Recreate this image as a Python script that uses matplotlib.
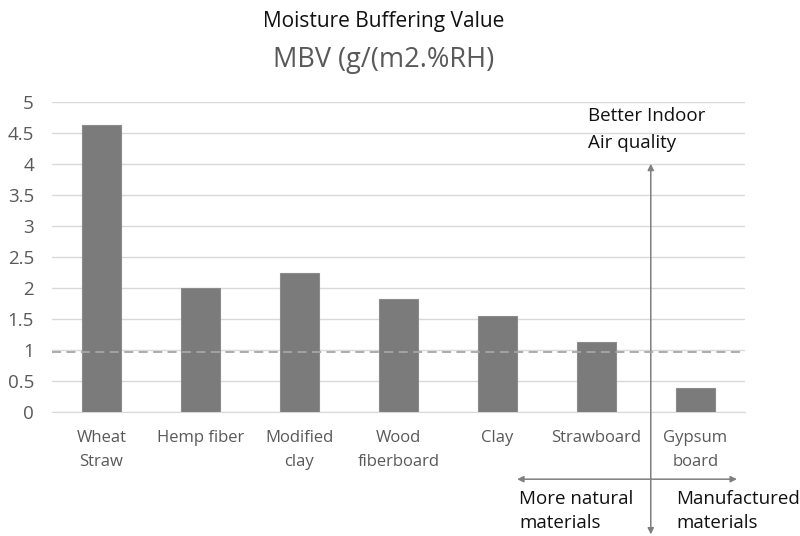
import matplotlib
matplotlib.use("Agg")
import matplotlib.pyplot as plt

plt.rcParams['font.family'] = ['Open Sans', 'DejaVu Sans']

categories = ["Wheat\nStraw", "Hemp fiber", "Modified\nclay", "Wood\nfiberboard",
              "Clay", "Strawboard", "Gypsum\nboard"]
mbv = [4.63, 2.0, 2.24, 1.81, 1.55, 1.13, 0.38]
reference_level = 0.97
y_ticks = [0, 0.5, 1, 1.5, 2, 2.5, 3, 3.5, 4, 4.5, 5]

fig = plt.figure(figsize=(8, 5.36), dpi=100)
ax = fig.add_axes([0.065, 0.232, 0.866, 0.578])

x = list(range(len(categories)))
ax.bar(x, mbv, width=0.4, color="#7b7b7b", edgecolor="#8c8c8c", linewidth=0.8, zorder=3)
ax.axhline(reference_level, color="#a6a6a6", linestyle=(0, (5, 3)), linewidth=1.3, zorder=4)

ax.set_xlim(-0.5, len(categories) - 0.5)
ax.set_ylim(0, 5)
ax.set_yticks(y_ticks)
ax.set_yticklabels([f"{t:g}" for t in y_ticks])
ax.set_xticks(x)
ax.set_xticklabels(categories, linespacing=1.65)
ax.tick_params(axis="y", length=0, labelsize=13.5, colors="#595959", pad=13)
ax.tick_params(axis="x", length=0, labelsize=12, colors="#595959", pad=13)
ax.grid(axis="y", color="#d9d9d9", linewidth=1, zorder=0)
for s in ["top", "right", "left"]:
    ax.spines[s].set_visible(False)
ax.spines["bottom"].set_color("#d9d9d9")

fig.text(0.48, 1 - 22 / 536, "Moisture Buffering Value", ha="center", va="center",
         fontsize=15, color="#111111")
fig.text(0.479, 1 - 60 / 536, "MBV (g/(m2.%RH)", ha="center", va="center",
         fontsize=19.5, color="#595959")

# arrows
arrow_kw = dict(arrowstyle="<|-|>", color="#7f7f7f", lw=1.1, mutation_scale=9,
                shrinkA=0, shrinkB=0)
ax.annotate("", xy=(5.55, 0.003), xycoords=("data", "figure fraction"),
            xytext=(5.55, 4.0), textcoords="data", arrowprops=arrow_kw,
            annotation_clip=False)
ax.annotate("", xy=(4.2, 0.106), xycoords=("data", "figure fraction"),
            xytext=(6.42, 0.106), textcoords=("data", "figure fraction"),
            arrowprops=arrow_kw, annotation_clip=False)

ax.text(4.92, 4.55, "Better Indoor\nAir quality", ha="left", va="center",
        fontsize=13.5, color="#111111", linespacing=1.62)
ax.annotate("More natural\nmaterials", xy=(4.22, 1 - 511 / 536),
            xycoords=("data", "figure fraction"), ha="left", va="center",
            fontsize=13.5, color="#111111", linespacing=1.45, annotation_clip=False)
ax.annotate("Manufactured\nmaterials", xy=(5.81, 1 - 511 / 536),
            xycoords=("data", "figure fraction"), ha="left", va="center",
            fontsize=13.5, color="#111111", linespacing=1.45, annotation_clip=False)

fig.savefig("out.png", dpi=100)
